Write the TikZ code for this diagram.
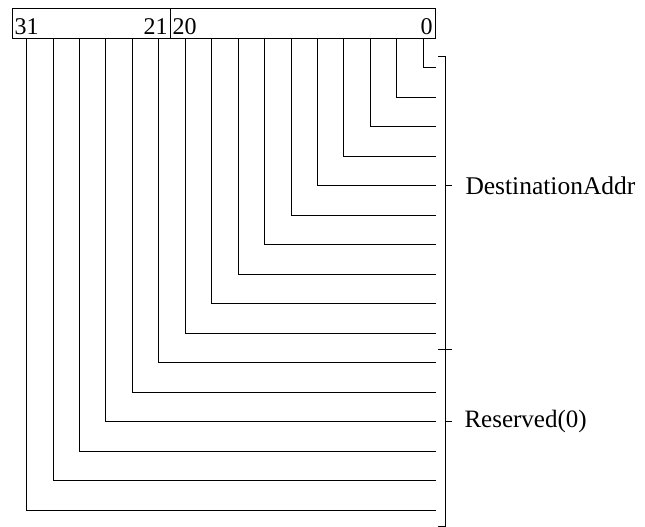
\documentclass[tikz,border=0pt]{standalone}
\usepackage{fontspec}
\setmainfont{Liberation Serif}

\begin{document}
\begin{tikzpicture}[x=1pt,y=-1pt,line width=1pt,
  every node/.style={font=\fontsize{24}{28}\selectfont,inner sep=1pt}]
\useasboundingbox (0,0) rectangle (645,527);
% register box
\draw (12,9) rectangle (435,39); \draw (170,9)--(170,39);
\node[anchor=base west] (hi) at (13,35) {31};
\node[anchor=base east] (midhi) at (169,35) {21};
\node[anchor=base west] (midlo) at (171,35) {20};
\node[anchor=base east] (lo) at (434,35) {0};
% bit lines
\foreach \i in {0,...,15} {
  \coordinate (t\i) at ({423.3-26.45*\i},39);
  \coordinate (e\i) at (435.5,{68+29.47*\i});
  \draw (t\i) |- (e\i);
}
% bracket
\coordinate (bt) at (445.5,56.7);
\coordinate (bm) at (445.5,349);
\coordinate (bb) at (445.5,526.5);
\draw (bt)--(bb);
\draw (bt)--++(-7.5,0); \draw (bb)--++(-7.5,0);
\draw ([xshift=-7.5pt]bm)--([xshift=6.5pt]bm);
\node[anchor=west,font=\fontsize{25.5}{30}\selectfont] (dst) at (464,185.9) {DestinationAddr};
\node[anchor=west,font=\fontsize{25}{30}\selectfont] (rsv) at (463,421.6) {Reserved(0)};
\draw (bt|-dst.west)--++(6.5,0);
\draw (bt|-rsv.west)--++(6.5,0);
\end{tikzpicture}
\end{document}
